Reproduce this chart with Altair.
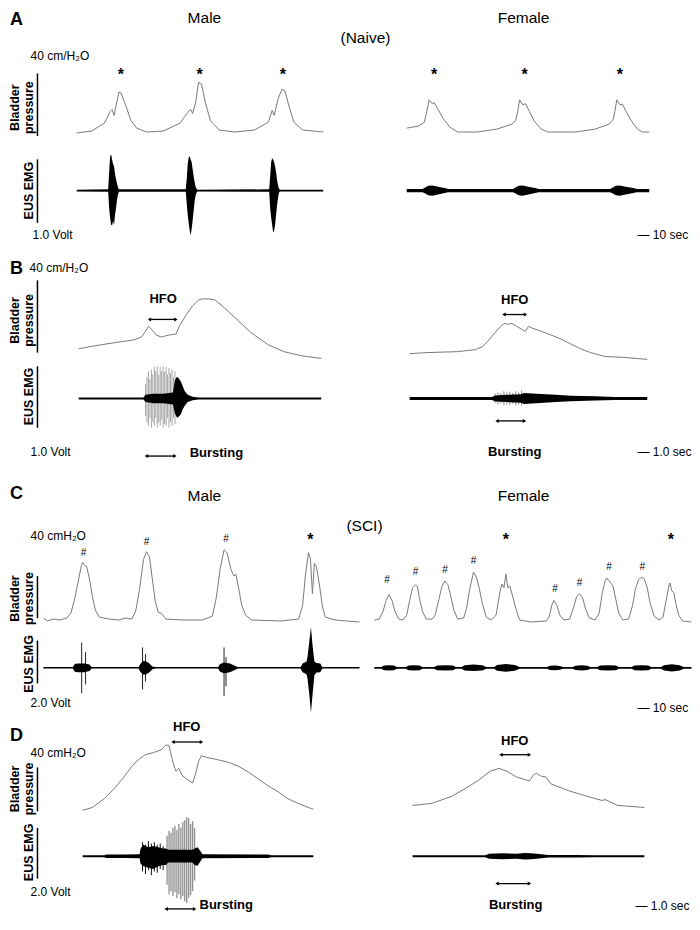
import altair as alt
import pandas as pd

# ---------------- data (time in s, bladder pressure in cmH2O, EUS EMG in V) ----------------
# Panel A - naive, male
A_M_T = [0, 18.8, 35, 42.5, 45, 47.5, 50, 53.8, 56.3, 62.5, 68.8, 76.3, 88.8, 110, 131.3, 141.3, 145, 147.5,
         151.3, 155, 158.8, 163.8, 170, 181.3, 201.3, 226.3, 243.8, 248.8, 251.3, 256.3, 261.3, 265, 270,
         276.3, 287.5, 313.8]
A_M_P = [1.9, 3.1, 8.1, 15.6, 16.9, 13.1, 19.4, 28.1, 27.5, 19.4, 10.0, 5.0, 2.5, 3.1, 8.1, 15.0, 16.9, 14.4,
         21.3, 34.4, 33.1, 21.3, 10.0, 3.8, 2.5, 3.8, 8.8, 16.3, 13.1, 23.8, 30.0, 28.8, 19.4, 8.8, 3.8, 2.5]
A_M_EMG_T = [0, 40, 41.25, 42.5, 43.75, 45, 46.25, 47.5, 48.75, 50, 51.25, 52.5, 53.75,
             138.75, 140, 141.25, 142.5, 143.75, 145, 146.25, 147.5, 148.75, 150, 151.25, 152.5, 153.75,
             245, 246.25, 247.5, 248.75, 250, 251.25, 252.5, 253.75, 255, 256.25, 257.5, 258.75, 313.75]
A_M_EMG_HI = [0.015, 0.02, 0.29, 0.54, 0.57, 0.49, 0.42, 0.38, 0.26, 0.18, 0.11, 0.05, 0.02,
              0.02, 0.18, 0.42, 0.52, 0.54, 0.49, 0.45, 0.34, 0.23, 0.14, 0.06, 0.03, 0.015,
              0.02, 0.23, 0.45, 0.51, 0.49, 0.45, 0.38, 0.29, 0.17, 0.08, 0.03, 0.015, 0.015]
A_M_EMG_LO = [-0.015, -0.02, -0.28, -0.43, -0.54, -0.55, -0.48, -0.54, -0.38, -0.28, -0.15, -0.06, -0.02,
              -0.02, -0.20, -0.38, -0.51, -0.63, -0.71, -0.60, -0.48, -0.32, -0.17, -0.08, -0.03, -0.015,
              -0.02, -0.28, -0.43, -0.54, -0.66, -0.63, -0.54, -0.38, -0.23, -0.11, -0.03, -0.015, -0.015]
# Panel A - naive, female
A_F_T = [0, 15, 22.5, 25, 28.75, 32.5, 35, 40, 46.25, 55, 65, 90, 115, 133.75, 138.75, 141.25, 143.75, 147.5,
         151.25, 156.25, 162.5, 171.25, 180, 215, 240, 257.5, 262.5, 265, 267.5, 271.25, 275, 280, 286.25,
         293.75, 300, 308.75]
A_F_P = [5.0, 6.3, 8.8, 14.4, 23.1, 20.6, 21.3, 16.9, 11.3, 5.6, 2.5, 2.5, 4.4, 7.5, 10, 15.6, 23.1, 20,
         20.6, 15.6, 9.4, 4.4, 2.5, 2.5, 4.4, 7.5, 10, 15.6, 23.1, 20, 20, 15, 9.4, 4.4, 2.5, 2.5]
A_F_EMG_T = [0, 20, 22.5, 27.5, 32.5, 40, 50, 52.5, 135, 137.5, 142.5, 147.5, 155, 165, 167.5,
             258.75, 261.25, 266.25, 271.25, 278.75, 290, 292.5, 308.75]
A_F_EMG_AMP = [0.025, 0.025, 0.04, 0.075, 0.08, 0.06, 0.035, 0.025, 0.025, 0.04, 0.075, 0.08, 0.06, 0.035,
               0.025, 0.025, 0.04, 0.075, 0.08, 0.06, 0.035, 0.025, 0.025]

# Panel B - naive, one void, male
B_M_T = [0, 2, 4.5, 7, 8, 8.5, 8.875, 9.375, 9.875, 10.5, 11.5, 12.375, 12.875, 13.625, 14.5, 15.25, 15.75,
         16.625, 17.375, 18.25, 19.875, 22, 24.125, 26.125, 28.25, 30.875]
B_M_P = [7.0, 8.6, 10.3, 11.9, 13.5, 16.7, 19.4, 17.3, 14.6, 13.5, 14.6, 15.1, 20.0, 25.4, 30.8, 34.0, 34.6,
         34.6, 34.0, 30.8, 24.3, 15.7, 9.2, 5.4, 3.2, 1.6]
B_M_EMG_T = [0, 8.25, 8.5, 9.5, 10.75, 12, 12.25, 12.5, 12.75, 13, 13.25, 13.5, 13.875, 14.5, 15.25, 30.875]
B_M_EMG_HI = [0.016, 0.016, 0.06, 0.08, 0.08, 0.10, 0.30, 0.36, 0.33, 0.28, 0.20, 0.12, 0.06, 0.03, 0.016, 0.016]
B_M_EMG_LO = [-0.016, -0.016, -0.06, -0.08, -0.08, -0.10, -0.25, -0.32, -0.30, -0.26, -0.18, -0.12, -0.06,
              -0.03, -0.016, -0.016]
B_M_SPK_T = [8.5, 8.6875, 8.875, 9.0625, 9.25, 9.4375, 9.625, 9.8125, 10, 10.1875, 10.375, 10.5625, 10.75,
             10.9375, 11.125, 11.3125, 11.5, 11.6875, 11.875, 12.0625, 12.25]
B_M_SPK_TOP = [0.24, 0.35, 0.45, 0.32, 0.48, 0.40, 0.52, 0.45, 0.53, 0.39, 0.52, 0.45, 0.53, 0.44, 0.52, 0.40,
               0.50, 0.42, 0.48, 0.35, 0.45]
B_M_SPK_BOT = [-0.29, -0.40, -0.45, -0.32, -0.48, -0.39, -0.45, -0.32, -0.48, -0.40, -0.45, -0.35, -0.48,
               -0.42, -0.45, -0.32, -0.48, -0.39, -0.45, -0.32, -0.42]
B_M_HFO = [9.0, 12.375]
B_M_BURST = [8.625, 12.25]
# Panel B - naive, one void, female
B_F_T = [0, 2.375, 6.125, 8.375, 9.25, 9.875, 10.5, 11.125, 11.75, 12.125, 12.5, 13, 13.625, 14.25, 14.75,
         15.125, 15.625, 16.75, 18, 19.25, 20.5, 21.75, 23, 24.875, 27.375, 30.25]
B_F_P = [4.3, 4.9, 5.4, 6.5, 8.1, 10.8, 14.0, 17.3, 20.0, 21.1, 20.5, 21.1, 19.4, 17.8, 16.7, 19.4, 18.4, 16.7,
         14.6, 12.4, 9.7, 7.0, 4.9, 2.7, 2.2, 1.1]
B_F_EMG_T = [0, 10.5, 10.875, 12.375, 14.25, 14.5, 16.125, 18.625, 20.5, 23.625, 26.125, 30.25]
B_F_EMG_AMP = [0.024, 0.024, 0.05, 0.06, 0.07, 0.09, 0.08, 0.06, 0.045, 0.035, 0.024, 0.024]
B_F_SPK_T = [10.875, 11.25, 11.625, 12, 12.375, 12.75, 13.125, 13.5, 13.875, 14.25]
B_F_SPK_TOP = [0.08, 0.1, 0.09, 0.12, 0.1, 0.11, 0.09, 0.12, 0.1, 0.13]
B_F_SPK_BOT = [-0.07, -0.1, -0.08, -0.11, -0.1, -0.1, -0.09, -0.11, -0.1, -0.12]
B_F_HFO = [12.0, 14.75]
B_F_BURST = [11.125, 14.625]

# Panel C - SCI, male
C_M_T = [0, 5, 12.5, 21.25, 30, 35, 40, 45, 48.75, 50, 52.5, 55, 58.75, 62.5, 66.25, 71.25, 83.75, 96.25, 105,
         112.5, 117.5, 122.5, 127.5, 131.25, 135, 138.75, 142.5, 146.25, 150, 156.25, 177.5, 202.5, 215, 220,
         225, 230, 233.75, 238.75, 242.5, 245, 248.75, 252.5, 257.5, 265, 302.5, 325, 330, 333.75, 337.5, 340,
         342.5, 345, 347.5, 351.25, 355, 358.75, 371.25, 402.5]
C_M_P = [4.7, 1.9, 3.7, 2.8, 4.7, 9.3, 23.3, 41.9, 55.8, 57.7, 54.9, 53.9, 41.9, 25.1, 12.1, 5.6, 3.7, 2.8, 4.7,
         3.7, 11.2, 32.6, 60.5, 67.9, 63.2, 41.9, 20.5, 10.2, 9.3, 3.7, 2.8, 2.8, 6.5, 23.3, 51.2, 69.8, 67, 51.2,
         44.6, 46.5, 32.6, 16.7, 7.4, 2.8, 1.9, 3.7, 16.7, 46.5, 67, 60.5, 27.9, 56.7, 53.9, 37.2, 16.7, 5.6,
         2.8, 0.9]
C_M_EMG_T = [0, 37.5, 40, 43.75, 52.5, 58.75, 61.25, 121.25, 123.75, 127.5, 131.25, 135, 138.75, 142.5, 222.5,
             225, 230, 237.5, 243.75, 247.5, 327.5, 330, 335, 336.25, 338.75, 340.625, 342.5, 345, 347.5, 352.5,
             355, 402.5]
C_M_EMG_HI = [0.035, 0.035, 0.18, 0.2, 0.2, 0.15, 0.035, 0.035, 0.2, 0.32, 0.3, 0.2, 0.06, 0.035, 0.035, 0.18,
              0.25, 0.2, 0.1, 0.035, 0.035, 0.2, 0.3, 0.5, 1.3, 1.9, 1.1, 0.3, 0.22, 0.2, 0.035, 0.035]
C_M_EMG_LO = [-0.035, -0.035, -0.18, -0.2, -0.2, -0.15, -0.035, -0.035, -0.2, -0.32, -0.3, -0.2, -0.06, -0.035,
              -0.035, -0.18, -0.25, -0.2, -0.1, -0.035, -0.035, -0.2, -0.3, -0.5, -1.3, -2.1, -1.3, -0.35, -0.22,
              -0.2, -0.035, -0.035]
C_M_SPK_T = [48.75, 53.75, 126.25, 130, 230, 232.5]
C_M_SPK_TOP = [1.18, 0.73, 0.95, 0.64, 0.95, 0.5]
C_M_SPK_BOT = [-1.18, -0.77, -1.0, -0.64, -1.32, -0.86]
# Panel C - SCI, female
C_F_T = [0, 6.25, 11.25, 15, 18.75, 22.5, 26.25, 31.25, 36.25, 41.25, 45, 48.75, 52.5, 55, 57.5, 61.25, 66.25,
         73.75, 77.5, 82.5, 86.25, 90, 93.75, 97.5, 101.25, 106.25, 113.75, 117.5, 121.25, 126.25, 130, 133.75,
         137.5, 142.5, 148.75, 155, 160, 162.5, 165, 167.5, 170, 172.5, 176.25, 180, 185, 200, 218.75, 222.5,
         226.25, 228.75, 232.5, 236.25, 241.25, 248.75, 253.75, 257.5, 261.25, 265, 268.75, 273.75, 281.25,
         286.25, 290, 293.75, 296.25, 300, 303.75, 307.5, 311.25, 316.25, 323.75, 328.75, 332.5, 336.25, 340,
         343.75, 347.5, 351.25, 356.25, 362.5, 367.5, 371.25, 375, 376.25, 378.75, 381.25, 383.75, 387.5, 392.5,
         403.75]
C_F_P = [2.8, 3.7, 11.2, 21.4, 27.0, 21.4, 11.2, 3.7, 2.8, 7.4, 21.4, 33.5, 36.3, 34.4, 23.3, 11.2, 3.7,
         3.7, 7.4, 23.3, 35.3, 40.0, 36.3, 25.1, 12.1, 3.7, 4.7, 14.0, 31.6, 48.4, 43.7, 32.6,
         18.6, 5.6, 2.8, 7.4, 29.8, 37.2, 33.5, 46.5, 33.5, 35.3, 25.1, 14.0, 2.8, 0.9, 1.9, 5.6,
         17.7, 21.4, 16.7, 7.4, 2.8, 3.7, 14.9, 25.1, 27.9, 24.2, 14.0, 4.7, 2.8,
         9.3, 27.9, 40.0, 42.8, 39.1, 35.3, 22.3, 9.3, 2.8, 3.7, 16.7, 32.6, 40.9, 43.7,
         41.9, 33.5, 18.6, 6.5, 2.8, 5.6, 20.5, 35.3, 38.1, 30.7, 28.8, 18.6, 7.4, 1.9,
         0.9]
C_F_EMG_T = [0, 8.75, 12.5, 18.75, 25, 28.75, 40, 43.75, 50, 57.5, 61.25, 76.25, 80, 90, 100, 103.75, 111.25,
             115, 126.25, 137.5, 142.5, 152.5, 156.25, 167.5, 178.75, 185, 220, 223.75, 230, 236.25, 240, 252.5,
             256.25, 263.75, 271.25, 275, 283.75, 287.5, 297.5, 307.5, 311.25, 327.5, 331.25, 340, 348.75, 352.5,
             365, 368.75, 378.75, 388.75, 393.75, 403.75]
C_F_EMG_AMP = [0.045, 0.045, 0.11, 0.12, 0.11, 0.045, 0.045, 0.11, 0.12, 0.11, 0.045, 0.045, 0.11, 0.12, 0.11,
               0.045, 0.045, 0.12, 0.15, 0.12, 0.045, 0.045, 0.13, 0.18, 0.13, 0.045, 0.045, 0.1, 0.11, 0.09,
               0.045, 0.045, 0.1, 0.12, 0.1, 0.045, 0.045, 0.11, 0.12, 0.11, 0.045, 0.045, 0.11, 0.12, 0.11,
               0.045, 0.045, 0.12, 0.17, 0.12, 0.045, 0.045]

# Panel D - SCI, one void, male
D_M_T = [0, 1.25, 2.75, 4, 5.25, 6.25, 7.125, 8, 9, 10, 10.625, 11, 11.5, 11.875, 12.25, 12.625, 13.25, 14,
         14.375, 14.75, 15.125, 15.875, 17.125, 18.625, 19.875, 21.125, 22.375, 23.625, 24.875, 26.125, 27.75,
         29.375]
D_M_P = [3.6, 6.2, 14.2, 23.1, 33.8, 43.6, 49.8, 54.3, 56.1, 58.7, 63.2, 62.3, 47.2, 39.2, 41.8, 35.6, 32.0,
         28.5, 36.5, 48.1, 53.4, 51.6, 49.8, 47.2, 43.6, 38.3, 32.0, 25.8, 20.5, 14.2, 8.9, 4.5]
D_M_EMG_T = [0, 2.75, 3, 5.25, 7.25, 7.375, 7.75, 8.375, 9, 9.625, 10.25, 10.625, 10.875, 14, 14.25, 14.625, 15,
             15.25, 23.625, 24, 29.375]
D_M_EMG_HI = [0.04, 0.04, 0.07, 0.07, 0.08, 0.3, 0.45, 0.35, 0.4, 0.35, 0.3, 0.3, 0.25, 0.25, 0.3, 0.35, 0.2,
              0.08, 0.07, 0.04, 0.04]
D_M_EMG_LO = [-0.04, -0.04, -0.07, -0.07, -0.08, -0.3, -0.4, -0.45, -0.5, -0.4, -0.35, -0.35, -0.25, -0.25,
              -0.35, -0.38, -0.2, -0.08, -0.07, -0.04, -0.04]
D_M_DARK_T = [7.625, 8, 8.375, 8.75, 9.125, 9.5, 9.875, 10.25]
D_M_DARK_TOP = [0.55, 0.45, 0.6, 0.5, 0.55, 0.45, 0.5, 0.4]
D_M_DARK_BOT = [-0.6, -0.7, -0.55, -0.75, -0.6, -0.65, -0.5, -0.55]
D_M_SPK_T = [10.75, 11, 11.25, 11.5, 11.75, 12, 12.25, 12.5, 12.75, 13, 13.25, 13.5, 13.75, 14, 14.25]
D_M_SPK_TOP = [0.81, 1.0, 0.92, 1.12, 1.19, 1.04, 1.27, 1.12, 1.35, 1.42, 1.54, 1.5, 1.27, 1.38, 1.12]
D_M_SPK_BOT = [-1.12, -1.5, -1.38, -1.58, -1.42, -1.65, -1.5, -1.69, -1.58, -1.77, -1.85, -1.65, -1.54, -1.38,
               -0.96]
D_M_HFO = [11.5, 15.125]
D_M_BURST = [10.625, 14.25]
# Panel D - SCI, one void, female
D_F_T = [0, 2.375, 4.875, 6.625, 8.25, 9.875, 11, 12, 13.25, 14.125, 14.875, 15.375, 15.75, 16.375, 17, 17.625,
         19.875, 22.375, 24.125, 24.5, 26.125, 29.5]
D_F_P = [8.0, 9.8, 16.0, 23.1, 30.3, 39.2, 41.8, 39.2, 33.8, 32.0, 30.3, 35.6, 37.4, 34.7, 33.8, 27.6, 21.4,
         16.0, 12.5, 13.4, 8.0, 6.2]
D_F_EMG_T = [0, 9.25, 9.75, 11.375, 13.25, 14.25, 15.125, 16.375, 17.25, 20.75, 23.25, 29.5]
D_F_EMG_AMP = [0.04, 0.04, 0.1, 0.12, 0.1, 0.13, 0.12, 0.08, 0.05, 0.05, 0.04, 0.04]
D_F_HFO = [11.25, 14.875]
D_F_BURST = [10.75, 14.875]

# ---------------- layout helpers ----------------
W, H = 684, 910
FONT = "Liberation Sans"


def fx(X):
    return round((X - 2) * 0.982, 2)


def fy(Y):
    return round(3 + (Y - 3) * 0.976, 2)


def xsc(T, X0, X1):
    return alt.Scale(domain=[0, T], range=[fx(X0), fx(X1)], nice=False, zero=False)


def ysc(d0, d1, Y0, Y1):
    return alt.Scale(domain=[d0, d1], range=[fy(Y0), fy(Y1)], nice=False, zero=False)


layers = []


def pressure(t, p, xs, ys):
    df = pd.DataFrame({"t": t, "p": p})
    layers.append(alt.Chart(df).mark_line(color="#7a7a7a", strokeWidth=1).encode(
        x=alt.X("t:Q", scale=xs, axis=None), y=alt.Y("p:Q", scale=ys, axis=None)))


def emg(t, hi, lo, xs, ys, color="black"):
    df = pd.DataFrame({"t": t, "hi": hi, "lo": lo})
    layers.append(alt.Chart(df).mark_area(color=color, opacity=1).encode(
        x=alt.X("t:Q", scale=xs, axis=None), y=alt.Y("hi:Q", scale=ys, axis=None), y2="lo:Q"))


def spikes(t, top, bot, xs, ys, color, width=1):
    df = pd.DataFrame({"t": t, "top": top, "bot": bot})
    layers.append(alt.Chart(df).mark_rule(color=color, strokeWidth=width).encode(
        x=alt.X("t:Q", scale=xs, axis=None), y=alt.Y("top:Q", scale=ys, axis=None), y2="bot:Q"))


def arrow(span, Y, xs):
    df = pd.DataFrame({"a": [span[0]], "b": [span[1]]})
    layers.append(alt.Chart(df).mark_rule(color="black", strokeWidth=1.3).encode(
        x=alt.X("a:Q", scale=xs, axis=None), x2="b:Q", y=alt.value(fy(Y))))
    hd = pd.DataFrame({"t": span, "s": ["triangle-left", "triangle-right"]})
    layers.append(alt.Chart(hd).mark_point(filled=True, size=16, color="black", opacity=1).encode(
        x=alt.X("t:Q", scale=xs, axis=None), y=alt.value(fy(Y)),
        shape=alt.Shape("s:N", scale=None, legend=None)))


def texts(rows, size, bold=False, align="center", angle=0):
    df = pd.DataFrame({"s": [r[0] for r in rows], "x": [fx(r[1]) for r in rows],
                       "y": [fy(r[2]) for r in rows]})
    mk = alt.Chart(df).mark_text(font=FONT, fontSize=size, fontWeight="bold" if bold else "normal",
                                 align=align, baseline="middle", angle=angle, color="black")
    layers.append(mk.encode(x=alt.X("x:Q", scale=None, axis=None),
                            y=alt.Y("y:Q", scale=None, axis=None), text="s:N"))


def neg(v):
    return [-a for a in v]


# ---------------- traces ----------------
# A
xs = xsc(313.75, 72, 323)
pressure(A_M_T, A_M_P, xs, ysc(0, 40, 131, 67))
emg(A_M_EMG_T, A_M_EMG_HI, A_M_EMG_LO, xs, ysc(-1, 1, 252, 122))
xs = xsc(308.75, 408, 655)
pressure(A_F_T, A_F_P, xs, ysc(0, 40, 131, 67))
emg(A_F_EMG_T, A_F_EMG_AMP, neg(A_F_EMG_AMP), xs, ysc(-1, 1, 252, 122))
# B
xs = xsc(30.875, 74, 321)
pressure(B_M_T, B_M_P, xs, ysc(0, 40, 362, 288))
spikes(B_M_SPK_T, B_M_SPK_TOP, B_M_SPK_BOT, xs, ysc(-1, 1, 462, 338), "#a5a5a5")
emg(B_M_EMG_T, B_M_EMG_HI, B_M_EMG_LO, xs, ysc(-1, 1, 462, 338))
arrow(B_M_HFO, 319, xs)
arrow(B_M_BURST, 459, xs)
xs = xsc(30.25, 411, 653)
pressure(B_F_T, B_F_P, xs, ysc(0, 40, 362, 288))
spikes(B_F_SPK_T, B_F_SPK_TOP, B_F_SPK_BOT, xs, ysc(-1, 1, 462, 338), "#8a8a8a")
emg(B_F_EMG_T, B_F_EMG_AMP, neg(B_F_EMG_AMP), xs, ysc(-1, 1, 462, 338))
arrow(B_F_HFO, 314, xs)
arrow(B_F_BURST, 423, xs)
# C
xs = xsc(402.5, 38, 360)
pressure(C_M_T, C_M_P, xs, ysc(0, 40, 630, 587))
spikes(C_M_SPK_T, C_M_SPK_TOP, C_M_SPK_BOT, xs, ysc(-2, 2, 720, 632), "#222222")
emg(C_M_EMG_T, C_M_EMG_HI, C_M_EMG_LO, xs, ysc(-2, 2, 720, 632))
xs = xsc(403.75, 375, 698)
pressure(C_F_T, C_F_P, xs, ysc(0, 40, 630, 587))
emg(C_F_EMG_T, C_F_EMG_AMP, neg(C_F_EMG_AMP), xs, ysc(-2, 2, 720, 632))
# D
xs = xsc(29.375, 78, 313)
pressure(D_M_T, D_M_P, xs, ysc(0, 40, 826, 781))
spikes(D_M_SPK_T, D_M_SPK_TOP, D_M_SPK_BOT, xs, ysc(-2, 2, 921, 817), "#8f8f8f", 1.3)
spikes(D_M_DARK_T, D_M_DARK_TOP, D_M_DARK_BOT, xs, ysc(-2, 2, 921, 817), "#111111")
emg(D_M_EMG_T, D_M_EMG_HI, D_M_EMG_LO, xs, ysc(-2, 2, 921, 817))
arrow(D_M_HFO, 752, xs)
arrow(D_M_BURST, 923, xs)
xs = xsc(29.5, 414, 650)
pressure(D_F_T, D_F_P, xs, ysc(0, 40, 826, 781))
emg(D_F_EMG_T, D_F_EMG_AMP, neg(D_F_EMG_AMP), xs, ysc(-2, 2, 921, 817))
arrow(D_F_HFO, 765, xs)
arrow(D_F_BURST, 897, xs)

# ---------------- calibration bars ----------------
BAR_X = [32, 32, 32, 32, 32, 32, 32, 32]
BAR_Y0 = [67, 155, 279, 367, 582, 648, 778, 840]
BAR_Y1 = [131, 220, 353, 430, 625, 692, 823, 892]
bars = pd.DataFrame({"x": [fx(v) for v in BAR_X], "y": [fy(v) for v in BAR_Y0], "y2": [fy(v) for v in BAR_Y1]})
layers.append(alt.Chart(bars).mark_rule(color="black", strokeWidth=1.5).encode(
    x=alt.X("x:Q", scale=None, axis=None), y=alt.Y("y:Q", scale=None, axis=None), y2="y2:Q"))

# ---------------- text ----------------
texts([("A", 4, 12), ("B", 4, 267), ("C", 4, 498), ("D", 4, 746)], 18, bold=True, align="left")
texts([("Male", 202, 10), ("Female", 527, 10), ("(Naive)", 366, 31),
       ("Male", 202, 500), ("Female", 527, 500), ("(SCI)", 365, 531)], 15.5)
texts([("40 cm/H\u2082O", 25, 49), ("1.0 Volt", 27, 233), ("40 cm/H\u2082O", 24, 266), ("1.0 Volt", 25, 455),
       ("40 cmH\u2082O", 25, 541), ("2.0 Volt", 25, 712), ("40 cmH\u2082O", 25, 763), ("2.0 Volt", 25, 906),
       ("\u2014 10 sec", 643, 233), ("\u2014 1.0 sec", 643, 455), ("\u2014 10 sec", 643, 717),
       ("\u2014 1.0 sec", 641, 920)], 12, align="left")
texts([("Bladder", 9.5, 102), ("pressure", 23.5, 102), ("EUS EMG", 23.5, 187),
       ("Bladder", 9.5, 320), ("pressure", 23.5, 320), ("EUS EMG", 23.5, 398),
       ("Bladder", 9.5, 605), ("pressure", 23.5, 605), ("EUS EMG", 23.5, 672),
       ("Bladder", 9.5, 800), ("pressure", 23.5, 800), ("EUS EMG", 23.5, 865)], 12.5, bold=True, angle=270)
texts([("HFO", 160, 298), ("HFO", 518, 299), ("HFO", 184, 737), ("HFO", 518, 751),
       ("Bursting", 518, 455), ("Bursting", 519, 919)], 13, bold=True)
texts([("Bursting", 187, 456), ("Bursting", 197, 919)], 13, bold=True, align="left")
texts([("*", 117, 69), ("*", 197, 69), ("*", 282, 69), ("*", 436, 69), ("*", 528, 69), ("*", 625, 69),
       ("*", 310, 545), ("*", 509, 545), ("*", 677, 545)], 16, bold=True)
texts([("#", 79, 558), ("#", 143, 547), ("#", 224, 544), ("#", 388, 586), ("#", 417, 578), ("#", 447, 576),
       ("#", 476, 567), ("#", 559, 595), ("#", 584, 589), ("#", 614, 573), ("#", 648, 573)], 10)

chart = alt.layer(*layers).resolve_scale(x="independent", y="independent").properties(
    width=W, height=H, padding=0, autosize=alt.AutoSizeParams(type="none")
).configure_view(stroke=None)

chart.save("out.html", embed_options={"renderer": "svg", "actions": False})
